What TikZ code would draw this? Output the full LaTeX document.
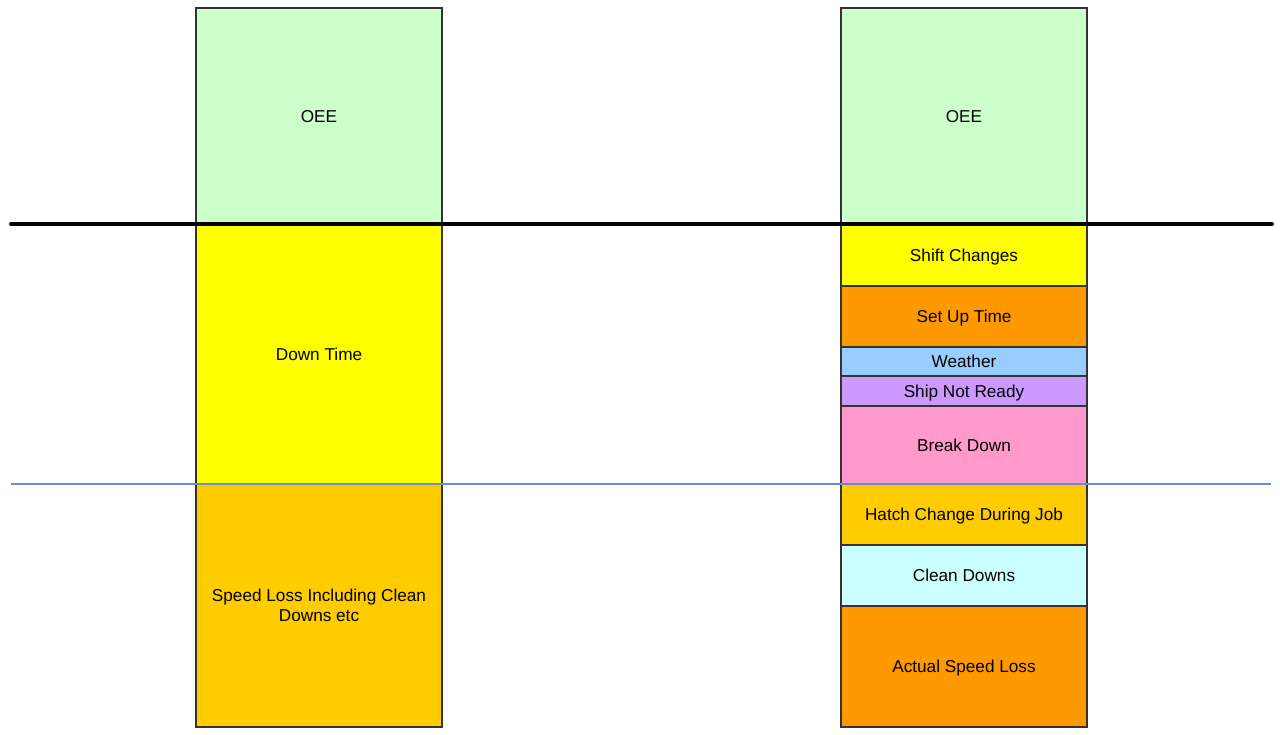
\documentclass[tikz,border=0pt]{standalone}
\usepackage{fontspec}
\setmainfont{Liberation Sans}
\definecolor{oeeGreen}{HTML}{CCFFCC}
\definecolor{downYellow}{HTML}{FFFF00}
\definecolor{lossGold}{HTML}{FFCC00}
\definecolor{setupOrange}{HTML}{FF9900}
\definecolor{weatherBlue}{HTML}{99CCFF}
\definecolor{shipPurple}{HTML}{CC99FF}
\definecolor{breakPink}{HTML}{FF99CC}
\definecolor{cleanCyan}{HTML}{CCFFFF}
\definecolor{splitBlue}{HTML}{6A8CD6}
\tikzset{
  block/.style = {draw=black!80, line width=1.5pt, minimum width=246pt, inner sep=0pt, outer sep=0pt,
    anchor=north west, align=center, text depth=0pt, font=\fontsize{17.2}{20.5}\selectfont},
}

\begin{document}
\begin{tikzpicture}[x=1pt, y=-1pt]
\useasboundingbox (0, 0) rectangle (1280, 735);

% left column
\node[block, fill=oeeGreen, minimum height=216pt] (oeeL) at (196, 8) {OEE};
\node[block, fill=downYellow, minimum height=260pt] (downL) at (196, 224) {Down Time};
\node[block, fill=lossGold, minimum height=243pt] (lossL) at (196, 484) {Speed Loss Including Clean\\Downs etc};

% right column
\node[block, fill=oeeGreen, minimum height=216pt] (oeeR) at (841, 8) {OEE};
\node[block, fill=downYellow, minimum height=62pt] (shift) at (841, 224) {Shift Changes};
\node[block, fill=setupOrange, minimum height=61pt] (setup) at (841, 286) {Set Up Time};
\node[block, fill=weatherBlue, minimum height=29pt] (weather) at (841, 347) {Weather};
\node[block, fill=shipPurple, minimum height=30pt] (ship) at (841, 376) {Ship Not Ready};
\node[block, fill=breakPink, minimum height=78pt] (brk) at (841, 406) {Break Down};
\node[block, fill=lossGold, minimum height=61pt] (hatch) at (841, 484) {Hatch Change During Job};
\node[block, fill=cleanCyan, minimum height=61pt] (clean) at (841, 545) {Clean Downs};
\node[block, fill=setupOrange, minimum height=121pt] (speed) at (841, 606) {Actual Speed Loss};

% dividing lines
\coordinate (topL) at (11, 224);
\coordinate (topR) at (1272, 224);
\coordinate (midL) at (11, 484);
\coordinate (midR) at (1271, 484);
\draw[line width=4pt, line cap=round] (topL) -- (topR);
\draw[splitBlue, line width=1.3pt] (midL) -- (midR);

\end{tikzpicture}
\end{document}
